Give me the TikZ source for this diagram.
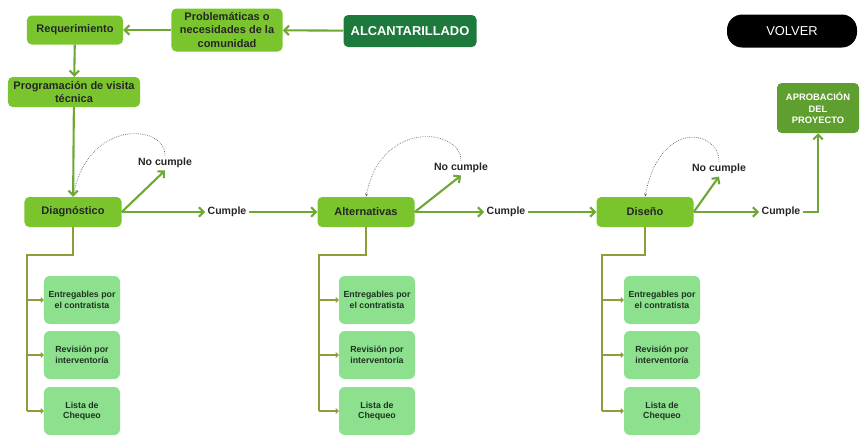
\documentclass[tikz,border=0pt]{standalone}
\usepackage{fontspec}
\setmainfont{Liberation Sans}
\usetikzlibrary{arrows.meta, calc, positioning}

\definecolor{lima}{HTML}{7AC52E}
\definecolor{hoja}{HTML}{1D7A3C}
\definecolor{oliva}{HTML}{6DA834}
\definecolor{ramac}{HTML}{8E9C3C}
\definecolor{menta}{HTML}{8DE08E}
\definecolor{aprobc}{HTML}{5E9F2F}
\definecolor{tinta}{HTML}{1F3320}

\tikzset{
  caja/.style={fill=lima, rounded corners=4pt, align=center, inner sep=2pt,
    font=\fontsize{9.4}{11.2}\selectfont\bfseries, text=black!85},
  sub/.style={fill=menta, rounded corners=5pt, align=center,
    minimum width=2.28cm, minimum height=1.44cm,
    font=\fontsize{7.5}{9}\selectfont\bfseries, text=tinta},
  etiq/.style={inner sep=2pt, font=\fontsize{9}{10}\selectfont\bfseries, text=black!85},
  volverbox/.style={fill=black, text=white, rounded corners=13pt,
    minimum width=3.9cm, minimum height=0.99cm, font=\fontsize{11}{13}\selectfont},
  flecha/.style={draw=oliva, line width=1.8pt, -{Straight Barb[length=4pt,width=8pt]}},
  rama/.style={draw=ramac, line width=0.9pt},
  ramaf/.style={rama, -{Straight Barb[length=2pt,width=4pt]}},
  lazo/.style={draw=black!60, densely dotted, line width=0.6pt, -{Stealth[length=3pt]}}
}

\begin{document}
\begin{tikzpicture}[x=0.03cm, y=-0.03cm]
  \useasboundingbox (0,0) rectangle (864,435);

  % fila superior
  \node[caja, minimum width=2.88cm, minimum height=0.87cm] (req) at (75,30) {Requerimiento};
  \node[caja, minimum width=3.33cm, minimum height=1.29cm] (prob) at (227,30) {Problemáticas o\\necesidades de la\\comunidad};
  \node[caja, fill=hoja, text=white, font=\fontsize{11}{13}\selectfont\bfseries,
    minimum width=3.99cm, minimum height=0.96cm] (alc) at (410,31) {ALCANTARILLADO};
  \node[volverbox] (volver) at (792,31) {VOLVER};
  \node[caja, minimum width=3.96cm, minimum height=0.9cm] (prog) at (74,92) {Programación de visita\\técnica};
  \node[caja, fill=aprobc, text=white, font=\fontsize{8}{10}\selectfont\bfseries,
    minimum width=2.46cm, minimum height=1.5cm] (aprob) at (818,108) {APROBACIÓN\\DEL\\PROYECTO};

  \draw[flecha] (alc) -- (prob);
  \draw[flecha] (prob) -- (req);
  \draw[flecha] (req) -- (prog);

  % etapas
  \foreach \s/\t/\x/\nx/\ny/\cx/\bx/\tx in {diag/Diagnóstico/73/165/163/227/82/27,
      alt/Alternativas/366/461/168/506/377/319, dis/Diseño/645/719/169/781/662/602} {
    \node[caja, minimum width=2.91cm, minimum height=0.9cm] (\s) at (\x,212) {\t};
    \node[etiq] (no\s) at (\nx,\ny) {No cumple};
    \node[etiq] (si\s) at (\cx,212) {Cumple};
    \draw[flecha] (\s.east) -- (no\s.south);
    \draw[flecha] (\s.east) -- (si\s.west);
    \draw[lazo] (no\s.north) .. controls +(0,-32) and +(15,-78) .. (\s.north);
    \node[sub] (ent\s) at (\bx,300) {Entregables por\\el contratista};
    \node[sub] (rev\s) at (\bx,355) {Revisión por\\interventoría};
    \node[sub] (lis\s) at (\bx,411) {Lista de\\Chequeo};
    \coordinate (tr\s) at (\tx,255);
    \draw[rama] (\s.south) |- (tr\s) -- (tr\s |- lis\s.west);
    \foreach \b in {ent,rev,lis}
      \draw[ramaf] (tr\s |- \b\s.west) -- (\b\s.west);
  }

  \draw[flecha] (prog) -- (diag);
  \draw[flecha] (sidiag.east) -- (alt.west);
  \draw[flecha] (sialt.east) -- (dis.west);
  \draw[flecha] (sidis.east) -| (aprob.south);
\end{tikzpicture}
\end{document}
